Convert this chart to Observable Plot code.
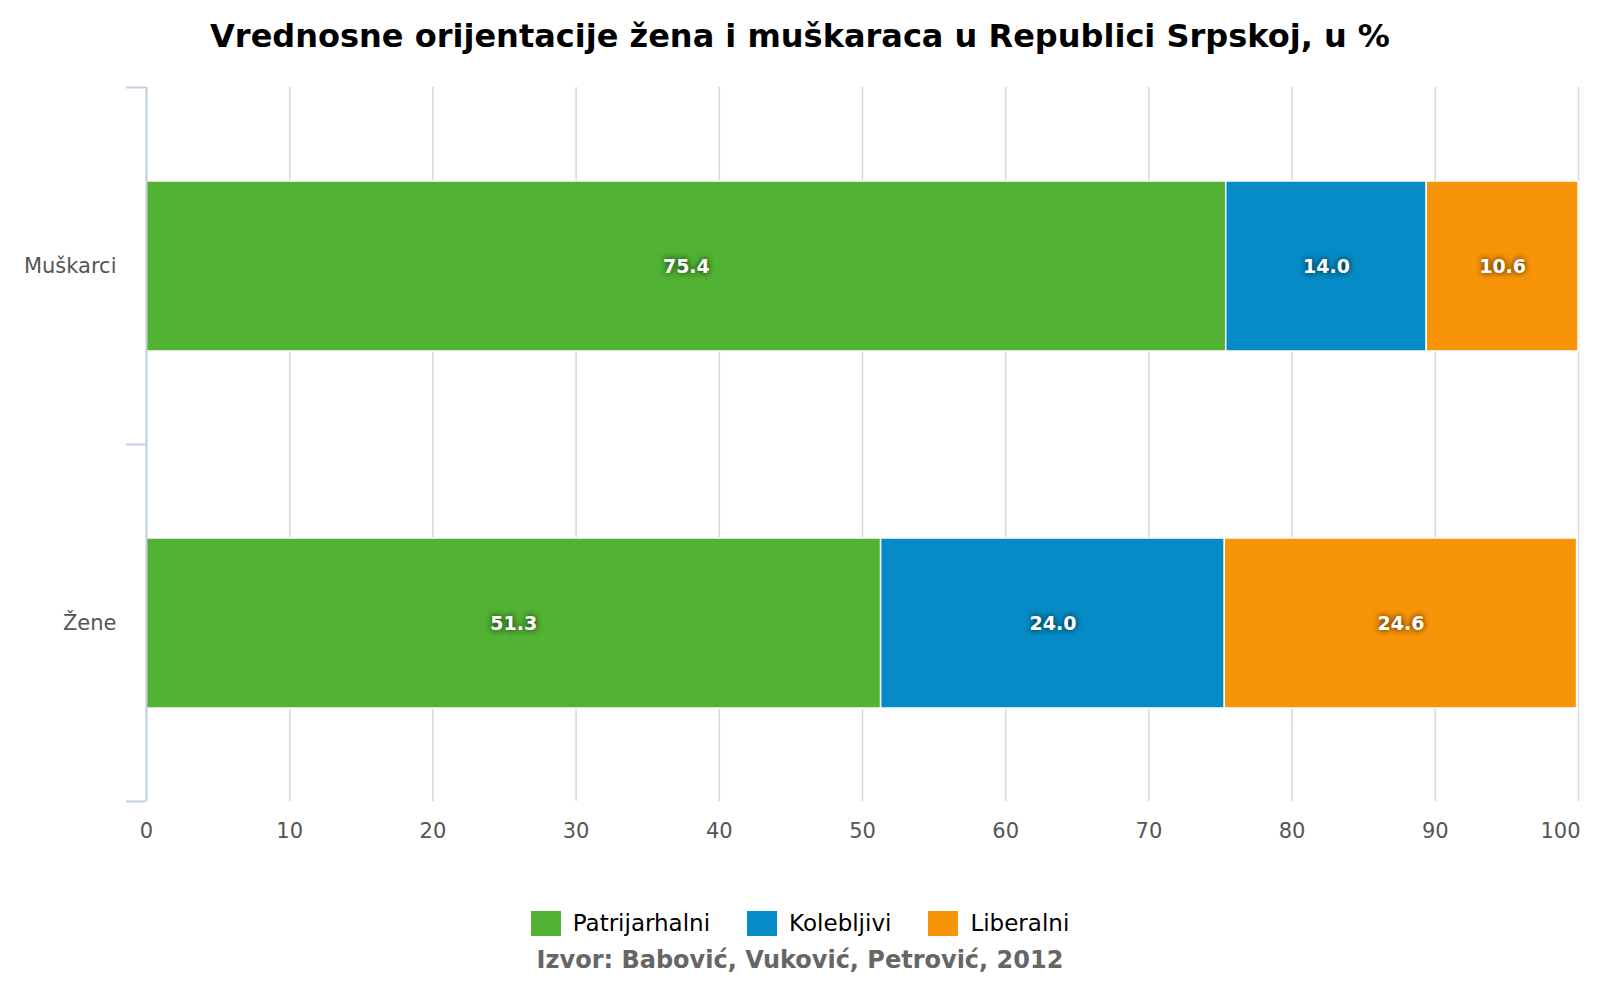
<!DOCTYPE html>
<html><head><meta charset="utf-8">
<script src="https://cdn.jsdelivr.net/npm/d3@7"></script>
<script src="https://cdn.jsdelivr.net/npm/@observablehq/plot@0.6"></script>
<style>
body{margin:0;background:#fff;font-family:"DejaVu Sans",sans-serif;}
#page{width:1600px;height:1000px;position:relative;overflow:hidden;}
#title{height:74px;line-height:72px;text-align:center;font-weight:bold;font-size:32px;color:#000;}
#chart svg{display:block;}
#legend{position:absolute;left:0;width:1600px;top:910px;display:flex;justify-content:center;align-items:center;gap:37px;font-size:23px;color:#000;}
#legend .item{display:flex;align-items:center;gap:12px;}
#legend .sw{width:30px;height:25px;display:inline-block;}
#source{position:absolute;left:0;width:1600px;top:946px;text-align:center;font-weight:bold;font-size:24px;color:#666;}
g[aria-label="text"] text{text-shadow:0 0 6px rgba(0,0,0,0.85);}
</style>
</head><body>
<div id="page">
  <div id="title">Vrednosne orijentacije žena i muškaraca u Republici Srpskoj, u %</div>
  <div id="chart"></div>
  <div id="legend"></div>
  <div id="source">Izvor: Babović, Vuković, Petrović, 2012</div>
</div>
<script>
const categories = ["Muškarci", "Žene"];
const series = ["Patrijarhalni", "Kolebljivi", "Liberalni"];
const patrijarhalni = [75.4, 51.3];
const kolebljivi = [14.0, 24.0];
const liberalni = [10.6, 24.6];
const colors = ["#51b233", "#058bc6", "#f79407"];
const xTicks = [0, 10, 20, 30, 40, 50, 60, 70, 80, 90, 100];

const seriesValues = [patrijarhalni, kolebljivi, liberalni];
const data = [];
categories.forEach((c, i) => {
  series.forEach((s, j) => data.push({group: c, series: s, value: seriesValues[j][i]}));
});

function yAxisTicks(index, scales, values, dims) {
  const y = scales.y, x = scales.x;
  const x0 = x(0);
  const step = y.step ? y.step() : (dims.height - dims.marginTop - dims.marginBottom) / categories.length;
  const bw = y.bandwidth ? y.bandwidth() : 0;
  const pos = [];
  categories.forEach((c, i) => {
    const center = y(c) + bw / 2;
    if (i === 0) pos.push(center - step / 2);
    pos.push(center + step / 2);
  });
  const g = d3.create("svg:g");
  g.selectAll("line").data(pos).join("line")
    .attr("x1", x0 - 20).attr("x2", x0)
    .attr("y1", d => d).attr("y2", d => d)
    .attr("stroke", "#c0d0e0").attr("stroke-width", 2);
  return g.node();
}

const innerTicks = xTicks.slice(0, -1);
const lastTick = xTicks.slice(-1);

const chart = Plot.plot({
  width: 1600,
  height: 796,
  marginTop: 13,
  marginBottom: 69,
  marginLeft: 146,
  marginRight: 22,
  x: {domain: [0, 100], ticks: xTicks, label: null},
  y: {domain: categories, paddingInner: 0.524, paddingOuter: 0.262, label: null},
  color: {domain: series, range: colors},
  style: {fontFamily: "DejaVu Sans", fontSize: "21px", color: "#555", background: "#fff"},
  marks: [
    Plot.gridX(xTicks, {stroke: "#d8d8d8", strokeOpacity: 1, strokeWidth: 1.5}),
    Plot.barX(data, {x: "value", y: "group", fill: "series", order: series, stroke: "white", strokeWidth: 1.5}),
    Plot.text(data, Plot.stackX({x: "value", y: "group", z: "series", order: series,
      text: d => d.value.toFixed(1), fill: "white", fontWeight: "bold", fontSize: 19})),
    Plot.ruleX([0], {stroke: "#c0d0e0", strokeWidth: 2}),
    yAxisTicks,
    Plot.axisX(innerTicks, {tickSize: 0, tickPadding: 22, fontSize: 21, fill: "#555", label: null}),
    Plot.axisX(lastTick, {tickSize: 0, tickPadding: 22, fontSize: 21, fill: "#555", textAnchor: "end", dx: 2, label: null}),
    Plot.axisY({tickSize: 0, tickPadding: 30, fontSize: 21, fill: "#555", label: null})
  ]
});
document.getElementById("chart").appendChild(chart);

const legend = d3.select("#legend");
series.forEach((s, i) => {
  const item = legend.append("div").attr("class", "item");
  item.append("span").attr("class", "sw").style("background", colors[i]);
  item.append("span").text(s);
});
</script>
</body></html>
